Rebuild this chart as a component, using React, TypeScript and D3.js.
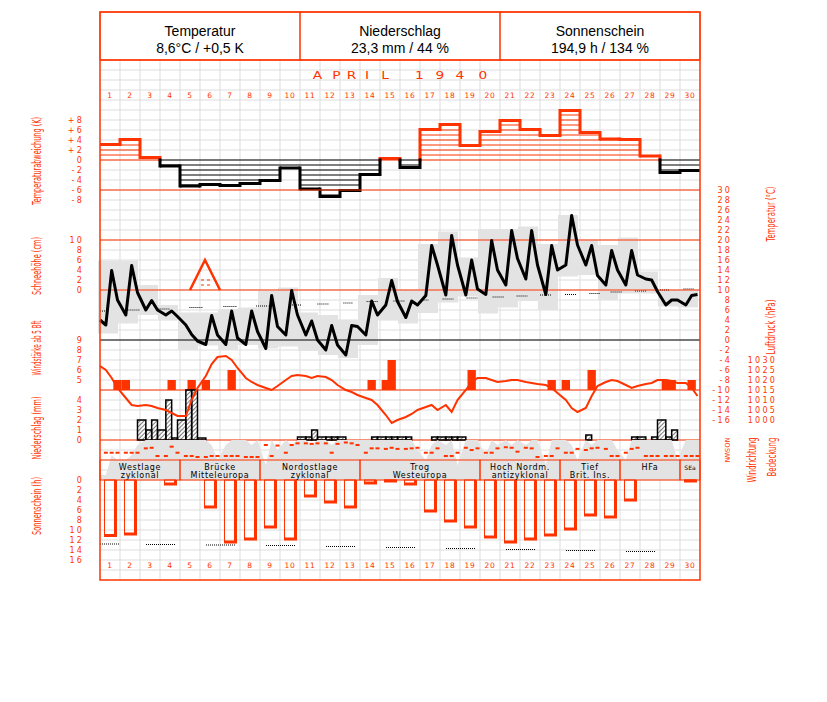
import * as d3 from "d3";

const RED = "#ff3300";
const GRID = "#dddddd";
const SHADE = "#e3e3e3";

const days = d3.range(1, 31);

// Temperaturabweichung (K) je Tag
const tempDeviation = [3.1, 4.1, 0.5, -1.2, -5.2, -4.9, -5.1, -4.7, -4.1, -1.6, -5.8, -7.3, -6.1, -2.9, 0.3,
  -1.5, 6.1, 7.1, 2.9, 5.7, 7.9, 6.1, 4.9, 9.9, 5.5, 4.2, 4.1, 0.8, -2.5, -2.1];

// Temperatur (°C) zu den Terminen 7, 14, 21 Uhr
const tempStart = 4.0;
const temp07 = [3.0, 5.0, 6.0, 5.0, 3.0, -0.9, -0.9, -0.9, -1.7, 1.0, 1.0, -2.0, -3.0, 1.0, 7.0,
  4.5, 8.9, 9.0, 9.0, 9.1, 11.0, 12.2, 9.1, 15.0, 15.0, 11.0, 11.0, 12.2, 7.0, 7.0];
const temp14 = [13.9, 14.9, 7.9, 5.8, 1.1, 4.9, 5.8, 5.8, 8.9, 9.9, 3.8, 2.9, 2.9, 7.8, 11.9,
  7.8, 18.9, 20.9, 16.0, 19.9, 21.9, 21.9, 18.9, 24.9, 18.9, 17.9, 17.9, 12.0, 8.0, 8.9];
const temp21 = [8.0, 9.5, 6.0, 4.7, -0.2, 1.0, 0.4, 1.7, 2.7, 5.0, 0.0, -1.0, 2.7, 5.0, 7.7,
  7.0, 15.0, 15.0, 10.2, 14.0, 16.3, 15.0, 14.0, 19.0, 12.9, 14.0, 13.0, 9.7, 8.0, 9.1];
const tempMax = [15.9, 15.9, 11.0, 7.0, 5.5, 5.5, 6.2, 6.5, 9.8, 10.5, 5.5, 5.0, 4.0, 9.0, 12.4,
  10.0, 19.2, 21.7, 16.5, 22.2, 22.2, 22.7, 19.2, 25.0, 20.0, 19.0, 20.5, 13.7, 10.0, 10.0];
const tempMin = [1.3, 3.3, 5.0, 4.0, -2.0, -1.1, -2.0, -1.0, -1.7, -1.3, -2.2, -3.0, -3.6, -1.0, 4.0,
  3.3, 5.4, 7.5, 8.7, 5.3, 6.5, 7.8, 6.0, 12.7, 13.0, 8.0, 9.3, 9.3, 6.7, 6.5];

// Mittelwerte (gepunktet): von Tag, bis Tag, °C
const normFrom = [0, 1.42, 2.92, 4.47, 6.17, 7.8, 9.6, 10.87, 12.17, 13.33, 14.67, 16.08, 17.13, 18.33, 19.63, 20.83, 22.0, 23.25, 24.47, 25.53, 26.75, 28.0, 29.17];
const normTo = [0.33, 2.0, 3.5, 5.17, 6.87, 8.42, 10.1, 11.42, 12.67, 13.92, 15.25, 16.42, 17.67, 18.87, 20.2, 21.37, 22.58, 23.8, 25.0, 26.08, 27.33, 28.5, 29.7];
const normTemp = [5.8, 6.0, 6.2, 6.5, 6.7, 6.8, 7.0, 7.2, 7.4, 7.7, 7.8, 8.0, 8.2, 8.4, 8.6, 8.8, 9.0, 9.1, 9.3, 9.6, 9.8, 10.0, 10.2];

// Schneehöhe (cm)
const snowDays = [6];
const snowDepth = [6];

// Windstärke (Bft) zu den Terminen
const wind07 = [4, 5, 4, 4, 4, 5, 4, 4, 4, 4, 4, 4, 4, 4, 5, 4, 4, 4, 4, 4, 4, 4, 4, 5, 4, 4, 4, 4, 5, 4];
const wind14 = [4, 4, 4, 5, 5, 4, 6, 4, 4, 4, 4, 4, 4, 5, 7, 4, 4, 4, 6, 4, 4, 4, 5, 4, 6, 4, 4, 4, 5, 5];
const wind21 = [5, 4, 4, 4, 4, 4, 4, 4, 4, 4, 4, 4, 4, 4, 4, 4, 4, 4, 4, 4, 4, 4, 4, 4, 4, 4, 4, 4, 4, 4];

// Luftdruck (hPa) zu den Terminen
const pressStart = 1027;
const press07 = [1025, 1011, 1007.5, 1005, 1002, 1022, 1032, 1021, 1016, 1020, 1022, 1021.5, 1015, 1011, 1002.5,
  1001.5, 1006.5, 1007.5, 1015, 1021, 1019.5, 1019, 1017.5, 1010, 1006, 1019, 1017.5, 1018, 1020, 1018.5];
const press14 = [1021, 1007.5, 1007, 1003.5, 1010, 1028, 1030, 1019, 1015, 1022, 1021, 1020, 1014, 1010, 998.5,
  1003, 1007.5, 1004, 1019, 1020, 1020, 1018.5, 1016, 1006, 1012, 1020, 1016, 1018.5, 1019.5, 1016];
const press21 = [1016, 1007, 1006, 1002, 1016, 1031.5, 1026, 1017.5, 1017, 1022.5, 1022, 1017.5, 1012.5, 1007.5, 1000,
  1005, 1005, 1010, 1021, 1019, 1020, 1018, 1013.5, 1004, 1017, 1019.5, 1017, 1020, 1018.5, 1012];

// Niederschlag (mm): Nacht (21-7 Uhr), Vormittag (7-14), Nachmittag (14-21)
const precNight = [0, 0, 2, 1, 2, 0.2, 0, 0, 0, 0, 0.3, 0.3, 0.3, 0, 0.3, 0.3, 0, 0.3, 0.3, 0, 0, 0, 0, 0, 0, 0, 0, 0.3, 2, 0];
const precMorning = [0, 0, 1, 4, 5, 0, 0, 0, 0, 0, 0.3, 0.3, 0, 0, 0.3, 0.3, 0, 0.3, 0, 0, 0, 0, 0, 0, 0.5, 0, 0, 0, 0.3, 0];
const precAfternoon = [0, 0, 2, 0.2, 5, 0, 0, 0, 0, 0, 1, 0.3, 0, 0.3, 0.3, 0, 0.3, 0.3, 0, 0, 0, 0, 0, 0, 0, 0, 0.3, 0.3, 1, 0];

// Bedeckung (Achtel) je Termin
const cloud07 = [1, 4, 8, 8, 8, 8, 7, 8, 3, 8, 8, 8, 8, 8, 8, 8, 4, 7, 8, 5, 8, 7, 3, 8, 8, 8, 4, 8, 8, 8];
const cloud14 = [5, 5, 8, 8, 8, 7, 8, 7, 8, 7, 7, 7, 8, 8, 8, 8, 7, 8, 8, 8, 7, 8, 8, 7, 7, 8, 8, 8, 8, 8];
const cloud21 = [4, 7, 8, 8, 8, 4, 8, 8, 6, 8, 8, 8, 8, 8, 8, 6, 8, 3, 8, 7, 8, 8, 8, 4, 8, 6, 8, 8, 4, 8];

// Windrichtung (Grad) je Termin
const dir07 = [229, 229, 150, 288, 288, 306, 288, 306, 90, 229, 60, 60, 45, 229, 160, 160, 229, 288, 140, 229, 130, 140, 288, 229, 180, 160, 229, 288, 288, 288];
const dir14 = [229, 229, 140, 120, 288, 288, 288, 306, 288, 90, 70, 229, 60, 150, 140, 150, 229, 288, 180, 229, 140, 150, 288, 229, 150, 288, 160, 288, 288, 288];
const dir21 = [229, 229, 288, 229, 306, 288, 288, 306, 100, 60, 60, 70, 90, 150, 160, 140, 150, 229, 150, 150, 210, 306, 150, 160, 140, 288, 140, 288, 288, 288];
const dirLabels = ["N", "O", "S", "W", "N"];

// Sonnenschein (h) je Tag
const sunshine = [11.3, 11.0, 0, 1.0, 0, 5.6, 12.6, 12.0, 9.6, 12.0, 3.4, 4.6, 5.6, 0.8, 0.4,
  1.0, 6.4, 8.4, 9.6, 11.6, 12.6, 12.0, 11.2, 10.0, 7.2, 7.6, 4.2, 0, 0, 0.4];
const sunFrom = [0, 2.3, 5.3, 8.3, 11.3, 14.3, 17.3, 20.3, 23.3, 26.3];
const sunTo = [1.0, 3.8, 6.8, 9.8, 12.8, 15.8, 18.8, 21.8, 24.8, 27.8];
const sunPossible = [12.8, 12.9, 13.0, 13.1, 13.3, 13.5, 13.7, 13.9, 14.1, 14.3];

// Großwetterlagen
const gwlStart = [0, 4, 8, 13, 19, 23, 26, 29];
const gwlEnd = [4, 8, 13, 19, 23, 26, 29, 30];
const gwlLine1 = ["Westlage", "Brücke", "Nordostlage", "Trog", "Hoch Nordm.", "Tief", "HFa", "SEa"];
const gwlLine2 = ["zyklonal", "Mitteleuropa", "zyklonal", "Westeuropa", "antizyklonal", "Brit. Ins.", "", ""];

const headTitles = ["Temperatur", "Niederschlag", "Sonnenschein"];
const headValues = ["8,6°C / +0,5 K", "23,3 mm / 44 %", "194,9 h / 134 %"];

const devTicks = [8, 6, 4, 2, 0, -2, -4, -6, -8];
const snowTicks = [10, 8, 6, 4, 2, 0];
const windTicks = [9, 8, 7, 6, 5];
const precTicks = [4, 3, 2, 1, 0];
const sunTicks = [0, 2, 4, 6, 8, 10, 12, 14, 16];
const tempTicks = d3.range(30, -17, -2);
const pressTicks = [1030, 1025, 1020, 1015, 1010, 1005, 1000];

const TICK_FONT = "'DejaVu Sans', sans-serif";
const NARROW = "'Liberation Sans Narrow', 'DejaVu Sans Condensed', sans-serif";

const App = () => {
  const x = d3.scaleLinear().domain([0, 30]).range([100, 700]);
  const yDev = d3.scaleLinear().domain([-8, 8]).range([200, 120]);
  const yTemp = d3.scaleLinear().domain([-16, 30]).range([420, 190]);
  const ySnow = d3.scaleLinear().domain([0, 10]).range([290, 240]);
  const yWind = d3.scaleLinear().domain([4, 9]).range([390, 340]);
  const yPress = d3.scaleLinear().domain([1000, 1030]).range([420, 360]);
  const yPrec = d3.scaleLinear().domain([0, 5]).range([440, 390]);
  const ySun = d3.scaleLinear().domain([0, 16]).range([480, 560]);
  const yCloud = d3.scaleLinear().domain([0, 8]).range([480, 440]);
  const yDir = d3.scaleLinear().domain([0, 360]).range([440, 460]);

  // Termine 7, 14, 21 Uhr als Tagesbruchteil
  const hours = [7, 14, 21];
  const obs = (series: number[][]) =>
    days.flatMap((_, i) => series.map((s, j) => ({ t: i + hours[j] / 24, v: s[i] })));

  const tempPts = [{ t: 0, v: tempStart }, ...obs([temp07, temp14, temp21])];
  const pressPts = [{ t: 0, v: pressStart }, ...obs([press07, press14, press21])];
  const cloudPts = [{ t: 0, v: cloud07[0] }, ...obs([cloud07, cloud14, cloud21]), { t: 30, v: cloud21[29] }];

  const tempLine = d3.line<any>().x((d) => x(d.t)).y((d) => yTemp(d.v));
  const pressLine = d3.line<any>().x((d) => x(d.t)).y((d) => yPress(d.v));
  const cloudArea = d3.area<any>().x((d) => x(d.t)).y0(yCloud(0)).y1((d) => yCloud(d.v));

  const windSlots = obs([wind07, wind14, wind21]);
  const dirSlots = obs([dir07, dir14, dir21]);
  const precBars = days.flatMap((_, i) => [
    { t0: i - 3 / 24, t1: i + 7 / 24, v: precNight[i] },
    { t0: i + 7 / 24, t1: i + 14 / 24, v: precMorning[i] },
    { t0: i + 14 / 24, t1: i + 21 / 24, v: precAfternoon[i] },
  ]).filter((b) => b.v > 0);

  const dayW = x(1) - x(0);
  const windW = x(10 / 24) - x(0);

  // Temperaturabweichung als Treppe mit Schraffur
  const devParts: JSX.Element[] = [];
  tempDeviation.forEach((v, i) => {
    const col = v >= 0 ? RED : "#000";
    const x0 = x(i);
    const x1 = x(i + 1);
    const n = Math.floor(Math.abs(v));
    d3.range(0, n + 1).forEach((k) => {
      const yy = yDev(Math.sign(v) * k);
      devParts.push(<line key={`h${i}-${k}`} x1={x0} x2={x1} y1={yy} y2={yy} stroke={col} strokeWidth={1} />);
    });
    devParts.push(<line key={`t${i}`} x1={x0} x2={x1} y1={yDev(v)} y2={yDev(v)} stroke={col} strokeWidth={3} />);
    if (i > 0) {
      const p = tempDeviation[i - 1];
      const hi = Math.max(p, v);
      const lo = Math.min(p, v);
      if (hi > 0) devParts.push(<line key={`vr${i}`} x1={x0} x2={x0} y1={yDev(hi) - 1.5} y2={yDev(Math.max(lo, 0)) + 1.5} stroke={RED} strokeWidth={3} />);
      if (lo < 0) devParts.push(<line key={`vb${i}`} x1={x0} x2={x0} y1={yDev(Math.min(hi, 0)) - 1.5} y2={yDev(lo) + 1.5} stroke="#000" strokeWidth={3} />);
    }
  });

  const gridV = d3.range(1, 30).map((i) => x(i));
  const gridH = d3.range(70, 580, 10);

  const rotLabel = (txt: string, bx: number, cy: number, len: number, key: string) => (
    <text key={key} transform={`translate(${bx},${cy}) rotate(-90)`} textAnchor="middle" fontFamily={NARROW}
      fontSize={12} fill={RED} textLength={len} lengthAdjust="spacingAndGlyphs">{txt}</text>
  );

  const tick = (txt: string, tx: number, ty: number, key: string) => (
    <text key={key} x={tx} y={ty + 3} textAnchor="end" fontFamily={TICK_FONT} fontSize={8} letterSpacing={2.2} fill={RED}>{txt}</text>
  );

  const monthChars = ["A", "P", "R", "I", "L", "1", "9", "4", "0"];
  const monthX = [317.5, 336.5, 351.5, 367, 385, 419.5, 440, 460, 483];

  return (
    <svg width={827} height={702} style={{ position: "absolute", left: 0, top: 0, background: "#fff" }}>
      <rect x={0} y={0} width={827} height={702} fill="#fff" />
      {/* Raster */}
      <g stroke={GRID} strokeWidth={1}>
        {gridV.map((gx) => <line key={`gv${gx}`} x1={gx} x2={gx} y1={60} y2={580} />)}
        {gridH.map((gy) => <line key={`gh${gy}`} x1={100} x2={700} y1={gy} y2={gy} />)}
      </g>

      {/* Kopf */}
      {headTitles.map((t, i) => (
        <g key={t}>
          <rect x={100 + i * 200} y={12} width={200} height={48} fill="none" stroke={RED} strokeWidth={1} />
          <text x={200 + i * 200} y={36} textAnchor="middle" fontFamily="'Liberation Sans', Arial, sans-serif" fontSize={14}>{t}</text>
          <text x={200 + i * 200} y={53} textAnchor="middle" fontFamily="'Liberation Sans', Arial, sans-serif" fontSize={14}>{headValues[i]}</text>
        </g>
      ))}

      {monthChars.map((c, i) => (
        <text key={`m${i}`} x={monthX[i]} y={79.5} textAnchor="middle" fontFamily={TICK_FONT} fontSize={11} fill={RED}
          transform={`translate(${monthX[i]},0) scale(1.25,1) translate(${-monthX[i]},0)`}>{c}</text>
      ))}
      {days.map((d, i) => (
        <text key={`dt${d}`} x={x(i + 0.5)} y={98} textAnchor="middle" fontFamily={TICK_FONT} fontSize={7.5} letterSpacing={0.8} fill={RED}>{d}</text>
      ))}
      {days.map((d, i) => (
        <text key={`db${d}`} x={x(i + 0.5)} y={568} textAnchor="middle" fontFamily={TICK_FONT} fontSize={7.5} letterSpacing={0.8} fill={RED}>{d}</text>
      ))}

      {/* Abweichung */}
      {devParts}

      {/* Temperatur */}
      {tempMax.map((mx, i) => (
        <rect key={`tb${i}`} x={x(i) - 2} y={yTemp(mx)} width={dayW} height={yTemp(tempMin[i]) - yTemp(mx)} fill={SHADE} />
      ))}
      {normTemp.map((v, i) => (
        <line key={`nt${i}`} x1={x(normFrom[i])} x2={x(normTo[i])} y1={yTemp(v)} y2={yTemp(v)} stroke="#000" strokeWidth={1} strokeDasharray="1,1" />
      ))}

      {/* horizontale Leitlinien */}
      {[yDev(-6), yTemp(20), yTemp(10), yPrec(5), yPrec(0)].map((yy) => (
        <line key={`rl${yy}`} x1={100} x2={700} y1={yy} y2={yy} stroke={RED} strokeWidth={1} />
      ))}
      <line x1={100} x2={700} y1={yTemp(0)} y2={yTemp(0)} stroke="#000" strokeWidth={1} />

      {/* Schnee */}
      {snowDays.map((d, i) => {
        const cx = x(d - 0.75);
        const yb = ySnow(0);
        const yt = ySnow(snowDepth[i]);
        return (
          <g key={`sn${d}`}>
            <path d={`M${cx - 15},${yb}L${cx},${yt}L${cx + 15},${yb}`} fill="none" stroke={RED} strokeWidth={2.5} />
            <g stroke={RED} strokeWidth={1}>
              <line x1={cx - 4} x2={cx - 1} y1={yb - 10} y2={yb - 10} />
              <line x1={cx + 2} x2={cx + 5} y1={yb - 10} y2={yb - 10} />
              <line x1={cx - 4} x2={cx - 1} y1={yb - 5} y2={yb - 5} />
              <line x1={cx + 2} x2={cx + 5} y1={yb - 5} y2={yb - 5} />
            </g>
          </g>
        );
      })}

      <path d={tempLine(tempPts) ?? ""} fill="none" stroke="#000" strokeWidth={3} strokeLinejoin="round" />

      {/* Wind ab 5 Bft */}
      {windSlots.filter((d) => d.v >= 5).map((d, k) => (
        <rect key={`w${k}`} x={x(d.t) - windW / 2} y={yWind(d.v)} width={windW} height={yWind(4) - yWind(d.v)} fill={RED} />
      ))}

      {/* Niederschlag */}
      <defs>
        <pattern id="hatch" width={3} height={3} patternUnits="userSpaceOnUse" patternTransform="rotate(45)">
          <line x1={0} y1={0} x2={0} y2={3} stroke="#000" strokeWidth={1} />
        </pattern>
      </defs>
      {precBars.map((b, k) => {
        const v = Math.min(b.v, 5);
        return (
          <rect key={`p${k}`} x={x(b.t0)} y={yPrec(v)} width={x(b.t1) - x(b.t0)} height={yPrec(0) - yPrec(v)}
            fill="url(#hatch)" stroke="#000" strokeWidth={1.5} />
        );
      })}

      <path d={pressLine(pressPts) ?? ""} fill="none" stroke={RED} strokeWidth={2} />

      {/* Bedeckung und Windrichtung */}
      <path d={cloudArea(cloudPts) ?? ""} fill={SHADE} />
      {dirSlots.map((d, k) => (
        <rect key={`dr${k}`} x={x(d.t) - 2} y={yDir(d.v) - 1} width={4} height={2} fill={RED} />
      ))}

      {/* Großwetterlagen */}
      {gwlStart.map((s, i) => (
        <g key={`g${i}`}>
          <rect x={x(s)} y={460} width={x(gwlEnd[i]) - x(s)} height={20} fill="none" stroke={RED} strokeWidth={1} />
          <text x={(x(s) + x(gwlEnd[i])) / 2} y={gwlLine2[i] ? 469.5 : 470} textAnchor="middle" fontFamily={TICK_FONT}
            fontSize={i === 7 ? 6 : 8} letterSpacing={i === 7 ? 0 : 0.7} fill="#000">{gwlLine1[i]}</text>
          {gwlLine2[i] && (
            <text x={(x(s) + x(gwlEnd[i])) / 2} y={477.5} textAnchor="middle" fontFamily={TICK_FONT} fontSize={8} letterSpacing={0.7} fill="#000">{gwlLine2[i]}</text>
          )}
        </g>
      ))}

      {/* Sonnenschein */}
      {sunshine.map((v, i) => v > 0 && (
        <g key={`s${i}`}>
          <rect x={x(i) + 4.5} y={ySun(0)} width={11} height={ySun(v) - ySun(0) - 1.5} fill="none" stroke={RED} strokeWidth={1} />
          <line x1={x(i) + 15.5} x2={x(i) + 15.5} y1={ySun(0)} y2={ySun(v)} stroke={RED} strokeWidth={3} />
          <line x1={x(i) + 4} x2={x(i) + 17} y1={ySun(v) - 1} y2={ySun(v) - 1} stroke={RED} strokeWidth={3} />
        </g>
      ))}
      {sunPossible.map((v, i) => (
        <line key={`sp${i}`} x1={x(sunFrom[i])} x2={x(sunTo[i])} y1={ySun(v)} y2={ySun(v)} stroke="#000" strokeWidth={1} strokeDasharray="1,1" />
      ))}

      {/* Rahmen */}
      <line x1={100} x2={700} y1={60} y2={60} stroke={RED} strokeWidth={1.5} />
      <rect x={100} y={12} width={600} height={568} fill="none" stroke={RED} strokeWidth={1.5} />

      {/* Achsen links */}
      {devTicks.map((t) => tick(t > 0 ? `+${t}` : t < 0 ? `-${-t}` : "0", 84, yDev(t), `ad${t}`))}
      {snowTicks.map((t) => tick(`${t}`, 84, ySnow(t), `as${t}`))}
      {windTicks.map((t) => tick(`${t}`, 84, yWind(t), `aw${t}`))}
      {precTicks.map((t) => tick(`${t}`, 84, yPrec(t), `ap${t}`))}
      {sunTicks.map((t) => tick(`${t}`, 84, ySun(t), `au${t}`))}
      {rotLabel("Temperaturabweichung (K)", 41, 161, 88, "l1")}
      {rotLabel("Schneehöhe (cm)", 41, 266, 58, "l2")}
      {rotLabel("Windstärke ab 5 Bft", 41, 348, 55, "l3")}
      {rotLabel("Niederschlag (mm)", 41, 428, 63, "l4")}
      {rotLabel("Sonnenschein (h)", 41, 506, 58, "l5")}

      {/* Achsen rechts */}
      {tempTicks.map((t) => tick(`${t}`, 732, yTemp(t), `at${t}`))}
      {pressTicks.map((t) => tick(`${t}`, 777, yPress(t), `ah${t}`))}
      {dirLabels.map((l, i) => (
        <text key={`dl${i}`} transform={`translate(${727},${yDir(i * 90)}) rotate(90)`} textAnchor="middle" dominantBaseline="middle"
          fontFamily={TICK_FONT} fontSize={6.5} fill={RED}>{l}</text>
      ))}
      {rotLabel("Temperatur (°C)", 775, 214, 55, "r1")}
      {rotLabel("Luftdruck (hPa)", 775, 327, 55, "r2")}
      {rotLabel("Windrichtung", 756, 460, 45, "r3")}
      {rotLabel("Bedeckung", 776, 457, 39, "r4")}
    </svg>
  );
};

export default App;
